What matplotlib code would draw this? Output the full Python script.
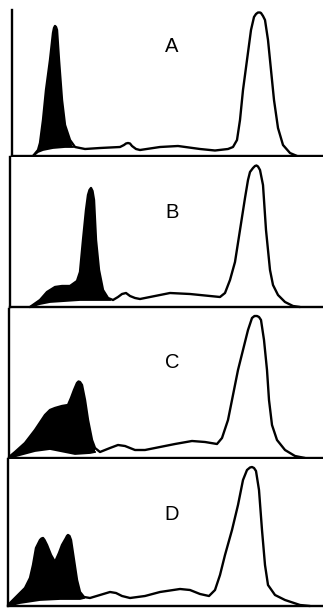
"""
Four stacked chromatogram-style traces (A-D): shaded early peak, open late peak.

Output: out.png
"""
import matplotlib.pyplot as plt

# x positions are in trace units (0..323), heights are trace units above baseline
a_x = [33, 38, 40, 43, 46, 50, 53, 54, 55, 56, 57, 59, 62, 65, 70, 75, 85, 100,
       120, 124, 126, 128, 130, 132, 136, 140, 160, 178, 200, 215, 228, 233, 237,
       240, 243, 247, 251, 254, 256, 258, 260, 261, 263, 265, 268, 271, 274, 278,
       283, 290, 297]
a_y = [0, 6, 13, 36, 66, 96, 123, 128, 130, 129, 126, 96, 56, 31, 16, 9, 7, 8,
       9, 11, 12.5, 13, 12.5, 10, 7, 6, 9, 10, 7, 5.5, 7, 9, 16,
       36, 66, 96, 126, 139, 142, 143.5, 143.5, 143, 140, 136, 116, 86, 56, 28,
       11, 3, 0]
a_inner_x = [33, 38, 43, 53, 65, 73]
a_inner_y = [0, 4, 6, 8, 9, 9]

b_x = [30, 40, 47, 55, 62, 70, 77, 80, 83, 86, 88, 89.5, 91, 92.5, 94, 96, 99,
       103, 108, 113, 118, 122, 126, 130, 135, 140, 155, 170, 190, 210, 220, 225,
       230, 235, 240, 245, 248, 250, 253, 255, 256.5, 258, 260, 263, 266, 270,
       273, 278, 285, 293, 300]
b_y = [0, 7, 15, 20, 21, 21, 26, 35, 67, 97, 112, 117, 119, 116, 107, 67, 37,
       17, 9, 7, 10, 13, 14, 11, 9, 8, 11, 14, 13, 11, 10, 14,
       27, 45, 77, 109, 127, 135, 139, 141, 141.5, 140.5, 137, 122, 77, 37,
       22, 12, 5, 1, 0]
b_inner_x = [30, 40, 50, 65, 80, 95, 110]
b_inner_y = [0, 3, 5, 6, 7, 7, 7]

c_x = [9, 15, 25, 35, 45, 50, 55, 62, 68, 71, 74, 77, 78.5, 80, 82, 85, 88, 92,
       95, 100, 105, 110, 118, 125, 135, 145, 160, 175, 192, 205, 217, 222, 228,
       233, 238, 243, 248, 252, 254.5, 257, 259, 261, 264, 267, 269, 272, 277,
       285, 295, 305]
c_y = [1, 6, 15, 28, 43, 48, 50, 52, 53, 60, 68, 75, 76.5, 76, 73, 58, 38, 18,
       10, 6, 8, 10, 13, 12, 8, 8, 11, 14, 17, 16, 14, 20, 38,
       63, 88, 108, 128, 140, 142, 142, 141, 138, 118, 88, 58, 33, 18,
       8, 2, 0]
c_inner_x = [9, 20, 35, 50, 60, 75, 90, 95]
c_inner_y = [0, 3, 7, 9, 7, 4, 5, 6]

d_x = [8, 15, 25, 30, 33, 36, 40, 41.5, 43, 44.5, 47, 51, 55, 59, 62, 66, 67,
       68, 69.5, 71, 74, 77, 80, 84, 90, 100, 110, 116, 122, 130, 145, 160, 180,
       190, 200, 209, 215, 220, 225, 232, 238, 243, 247, 250, 252, 254, 256, 259,
       262, 265, 268, 275, 285, 300, 310]
d_y = [1, 8, 18, 28, 41, 58, 66, 67.5, 68, 66, 61, 51, 44, 53, 61, 68, 70,
       71, 70, 66, 46, 26, 14, 9, 8, 11, 14, 13, 10, 8, 10, 14, 17,
       16, 12, 10, 16, 31, 51, 76, 101, 126, 136, 138.5, 139, 138, 135, 116,
       76, 41, 21, 11, 6, 1, 0]
d_inner_x = [8, 20, 40, 60, 80, 84]
d_inner_y = [0, 3, 6, 7, 7, 8]

labels = ["A", "B", "C", "D"]
label_heights = [109, 95, 96, 91]

W, H = 323, 608
# (left, top, baseline) of each panel in pixels
boxes = [(12, 10, 156), (10, 157, 307), (9, 309, 458), (8, 459, 606)]


def main() -> None:
    fig = plt.figure(figsize=(W / 100, H / 100), dpi=100)
    fig.patch.set_facecolor("white")

    traces = [
        (a_x, a_y, a_inner_x, a_inner_y),
        (b_x, b_y, b_inner_x, b_inner_y),
        (c_x, c_y, c_inner_x, c_inner_y),
        (d_x, d_y, d_inner_x, d_inner_y),
    ]

    for (left, top, base), (x, y, ix, iy), lab, lh in zip(
        boxes, traces, labels, label_heights
    ):
        ax = fig.add_axes([left / W, (H - base) / H, (W - left) / W, (base - top) / H])
        ax.set_xlim(left, W)
        ax.set_ylim(0, base - top)
        for side in ("top", "right"):
            ax.spines[side].set_visible(False)
        for side in ("left", "bottom"):
            ax.spines[side].set_linewidth(1.7)
            ax.spines[side].set_color("black")
        ax.set_xticks([])
        ax.set_yticks([])

        # shaded region: outer trace up to where it meets the inner line
        x_end = ix[-1]
        px = [xx for xx in x if xx <= x_end]
        py = y[: len(px)]
        ax.fill(px + ix[::-1], py + iy[::-1], color="black", lw=0)
        ax.plot(ix, iy, color="black", lw=1.3, clip_on=False)
        ax.plot(x, y, color="black", lw=1.7, clip_on=False,
                solid_joinstyle="round", solid_capstyle="round")

        ax.text(172, lh, lab, ha="center", va="center", fontsize=14.5,
                family="Liberation Sans", color="black")

    fig.savefig("out.png", dpi=100, facecolor=fig.get_facecolor())
    plt.close(fig)


if __name__ == "__main__":
    main()
